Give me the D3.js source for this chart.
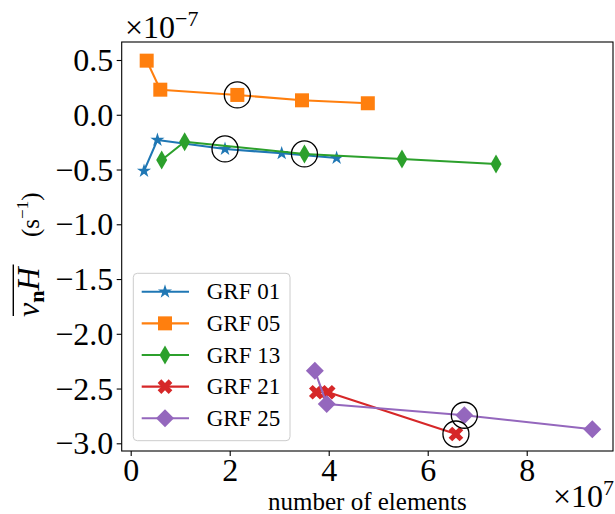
<!DOCTYPE html>
<html>
<head>
<meta charset="utf-8">
<script src="https://cdn.jsdelivr.net/npm/d3@7"></script>
<style>
  body { margin: 0; background: #fff; }
  text { font-family: "Liberation Serif", serif; fill: #000; }
</style>
</head>
<body>
<div id="chart-area"></div>
<script>
// data (x: number of elements, y: s^-1)
const seriesNames = ["GRF 01", "GRF 05", "GRF 13", "GRF 21", "GRF 25"];

const grf01X = [2.69e6, 5.4e6, 1.905e7, 3.05e7, 4.16e7];
const grf01Y = [-5.13e-8, -2.30e-8, -3.12e-8, -3.52e-8, -3.95e-8];

const grf05X = [3.23e6, 5.98e6, 2.154e7, 3.46e7, 4.79e7];
const grf05Y = [4.94e-8, 2.29e-8, 1.81e-8, 1.32e-8, 1.05e-8];

const grf13X = [6.26e6, 1.09e7, 3.51e7, 5.48e7, 7.38e7];
const grf13Y = [-4.13e-8, -2.46e-8, -3.58e-8, -4.04e-8, -4.49e-8];

const grf21X = [3.75e7, 3.99e7, 6.57e7];
const grf21Y = [-2.534e-7, -2.534e-7, -2.915e-7];

const grf25X = [3.72e7, 3.96e7, 6.74e7, 9.325e7];
const grf25Y = [-2.337e-7, -2.641e-7, -2.744e-7, -2.872e-7];

// which point of each series gets the black ring
const circledIndex = [2, 2, 2, 2, 2];

const xTicks = [0, 2e7, 4e7, 6e7, 8e7];
const xTickLabels = ["0", "2", "4", "6", "8"];
const yTicks = [0.5e-7, 0, -0.5e-7, -1e-7, -1.5e-7, -2e-7, -2.5e-7, -3e-7];
const yTickLabels = ["0.5", "0.0", "\u22120.5", "\u22121.0", "\u22121.5", "\u22122.0", "\u22122.5", "\u22123.0"];

const COLORS = ["#1f77b4", "#ff7f0e", "#2ca02c", "#d62728", "#9467bd"];

const MARGIN = { LEFT: 121.7, RIGHT: 2, TOP: 42, BOTTOM: 63 };
const WIDTH = 615 - MARGIN.LEFT - MARGIN.RIGHT;
const HEIGHT = 514 - MARGIN.TOP - MARGIN.BOTTOM;

const series = [
  { name: seriesNames[0], xs: grf01X, ys: grf01Y },
  { name: seriesNames[1], xs: grf05X, ys: grf05Y },
  { name: seriesNames[2], xs: grf13X, ys: grf13Y },
  { name: seriesNames[3], xs: grf21X, ys: grf21Y },
  { name: seriesNames[4], xs: grf25X, ys: grf25Y }
].map((s, i) => ({
  name: s.name,
  color: COLORS[i],
  points: s.xs.map((x, j) => ({ x: x, y: s.ys[j] })),
  ring: circledIndex[i]
}));

// marker shapes, matplotlib-ish: *, s, d, X, D
const markers = [
  { type: d3.symbolStar, size: 62, rot: 0 },
  { type: d3.symbolSquare, size: 196, rot: 0 },
  { type: d3.symbolDiamond, size: 105, rot: 0 },
  { type: d3.symbolCross, size: 135, rot: 45 },
  { type: d3.symbolDiamond2, size: 206, rot: 0 }
];

const svg = d3.select("#chart-area").append("svg")
  .attr("width", 615)
  .attr("height", 514);

const g = svg.append("g")
  .attr("transform", `translate(${MARGIN.LEFT},${MARGIN.TOP})`);

const x = d3.scaleLinear()
  .domain([-0.1818e7, 9.743e7])
  .range([0, WIDTH]);

const y = d3.scaleLinear()
  .domain([-3.0703e-7, 0.6644e-7])
  .range([HEIGHT, 0]);

// axes
const xAxisCall = d3.axisBottom(x)
  .tickValues(xTicks)
  .tickFormat((d, i) => xTickLabels[i])
  .tickSize(5)
  .tickPadding(5);

const yAxisCall = d3.axisLeft(y)
  .tickValues(yTicks)
  .tickFormat((d, i) => yTickLabels[i])
  .tickSize(5)
  .tickPadding(3.5);

const xAxisGroup = g.append("g")
  .attr("transform", `translate(0,${HEIGHT})`)
  .call(xAxisCall);

const yAxisGroup = g.append("g")
  .call(yAxisCall);

[xAxisGroup, yAxisGroup].forEach(ax => {
  ax.select(".domain").remove();
  ax.selectAll(".tick line").attr("stroke", "#000").attr("stroke-width", 1.1);
  ax.selectAll(".tick text")
    .attr("font-family", "Liberation Serif")
    .attr("font-size", "32px")
    .attr("fill", "#000");
});
xAxisGroup.selectAll(".tick text").attr("dy", "0.64em");
yAxisGroup.selectAll(".tick text").attr("dy", "0.33em");

// lines + markers
const line = d3.line()
  .x(d => x(d.x))
  .y(d => y(d.y));

series.forEach((s, i) => {
  const sg = g.append("g");
  sg.append("path")
    .datum(s.points)
    .attr("fill", "none")
    .attr("stroke", s.color)
    .attr("stroke-width", 2.1)
    .attr("stroke-linejoin", "round")
    .attr("d", line);

  const m = markers[i];
  sg.selectAll("path.mark")
    .data(s.points)
    .enter().append("path")
    .attr("class", "mark")
    .attr("fill", s.color)
    .attr("transform", d => `translate(${x(d.x)},${y(d.y)}) rotate(${m.rot})`)
    .attr("d", d3.symbol().type(m.type).size(m.size));
});

// black rings
g.selectAll("circle.ring")
  .data(series.map(s => s.points[s.ring]))
  .enter().append("circle")
  .attr("class", "ring")
  .attr("cx", d => x(d.x))
  .attr("cy", d => y(d.y))
  .attr("r", 13)
  .attr("fill", "none")
  .attr("stroke", "#000")
  .attr("stroke-width", 1.3);

// frame
g.append("rect")
  .attr("width", WIDTH)
  .attr("height", HEIGHT)
  .attr("fill", "none")
  .attr("stroke", "#000")
  .attr("stroke-width", 1.1);

// legend
const legend = g.append("g")
  .attr("transform", `translate(${133.3 - MARGIN.LEFT},${273.3 - MARGIN.TOP})`);

legend.append("rect")
  .attr("width", 156.7)
  .attr("height", 167.4)
  .attr("rx", 4)
  .attr("fill", "#fff")
  .attr("fill-opacity", 0.8)
  .attr("stroke", "#cccccc")
  .attr("stroke-width", 1);

series.forEach((s, i) => {
  const row = legend.append("g")
    .attr("transform", `translate(0,${18.4 + i * 31.65})`);
  row.append("line")
    .attr("x1", 8.4).attr("x2", 55.7)
    .attr("stroke", s.color)
    .attr("stroke-width", 2.1);
  const m = markers[i];
  row.append("path")
    .attr("fill", s.color)
    .attr("transform", `translate(31.7,0) rotate(${m.rot})`)
    .attr("d", d3.symbol().type(m.type).size(m.size));
  row.append("text")
    .attr("x", 73.4)
    .attr("dy", "0.33em")
    .attr("font-size", "23px")
    .text(s.name);
});

// axis label + offset texts
svg.append("text")
  .attr("x", MARGIN.LEFT + WIDTH / 2)
  .attr("y", 510)
  .attr("text-anchor", "middle")
  .attr("font-size", "25px")
  .text("number of elements");

const topOffset = svg.append("text")
  .attr("x", 125)
  .attr("y", 38)
  .attr("font-size", "32px");
topOffset.append("tspan").text("\u00d710");
topOffset.append("tspan").attr("font-size", "22px").attr("dy", -12).text("\u22127");

const botOffset = svg.append("text")
  .attr("x", 553)
  .attr("y", 507)
  .attr("font-size", "32px");
botOffset.append("tspan").text("\u00d710");
botOffset.append("tspan").attr("font-size", "22px").attr("dy", -12).text("7");

// y label: overline(v_n H)  (s^-1)
const yLab = svg.append("g")
  .attr("transform", "translate(39,317) rotate(-90)");

const vnh = yLab.append("text")
  .attr("font-size", "32px");
vnh.append("tspan").attr("font-style", "italic").text("v");
vnh.append("tspan").attr("font-size", "22px").attr("font-weight", "bold").attr("dy", 5).text("n");
vnh.append("tspan").attr("font-style", "italic").attr("dy", -5).text("H");

const bb = vnh.node().getBBox();
yLab.append("line")
  .attr("x1", bb.x + 1)
  .attr("x2", bb.x + bb.width + 1)
  .attr("y1", -25.7)
  .attr("y2", -25.7)
  .attr("stroke", "#000")
  .attr("stroke-width", 1.4);

const unit = yLab.append("text")
  .attr("x", 80)
  .attr("font-size", "25px");
unit.append("tspan").text("(s");
unit.append("tspan").attr("font-size", "17px").attr("dy", -11).text("\u22121");
unit.append("tspan").attr("dy", 11).text(")");
</script>
</body>
</html>
